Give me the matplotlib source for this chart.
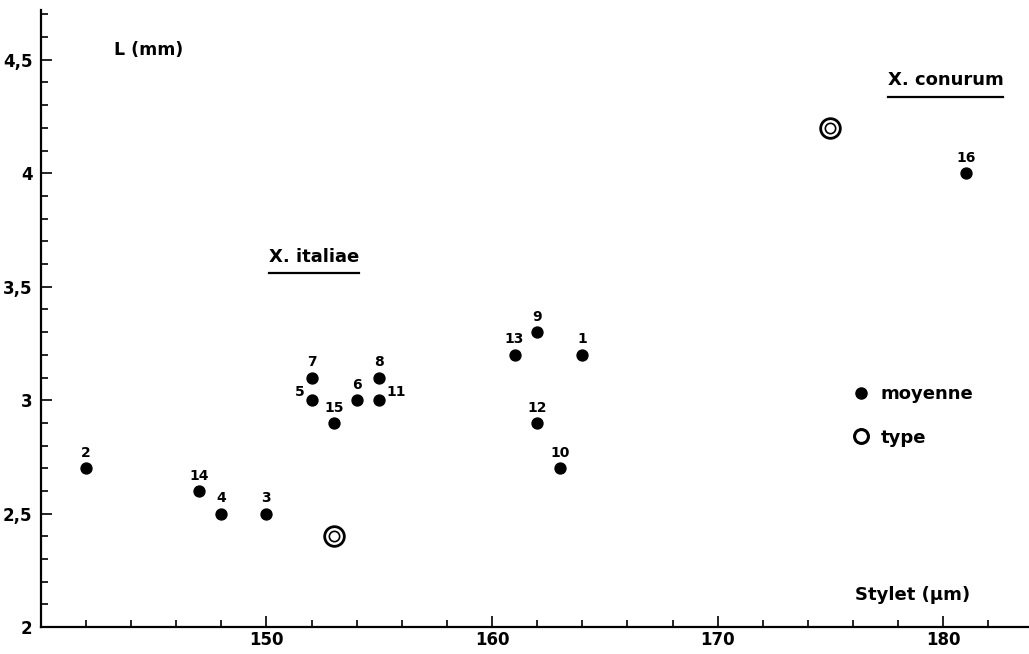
import matplotlib
matplotlib.use("Agg")
import matplotlib.pyplot as plt
from matplotlib.lines import Line2D

# ── data ──────────────────────────────────────────────────────────────
ids = list(range(1, 17))
stylet = [164, 142, 150, 148, 152, 154, 152, 155, 162, 163, 155, 162, 161, 147, 153, 181]
length = [3.2, 2.7, 2.5, 2.5, 3.0, 3.0, 3.1, 3.1, 3.3, 2.7, 3.0, 2.9, 3.2, 2.6, 2.9, 4.0]
type_stylet = [153, 175]
type_length = [2.4, 4.2]

x_major = [150, 160, 170, 180]
y_major = [2, 2.5, 3, 3.5, 4, 4.5]
y_labels = ["2", "2,5", "3", "3,5", "4", "4,5"]

# label placement for the few points not labelled straight above
side = {5: "left", 11: "right"}

plt.rcParams["font.family"] = ["DejaVu Sans"]
plt.rcParams["font.weight"] = "bold"

fig = plt.figure(figsize=(10.29, 6.54), dpi=100)
ax = fig.add_axes([0.0396, 0.041, 0.9604, 0.944])

ax.scatter(stylet, length, s=62, color="black", zorder=3)
ax.scatter(type_stylet, type_length, s=200, facecolor="white",
           edgecolor="black", linewidth=2.0, zorder=3)
ax.scatter(type_stylet, type_length, s=55, facecolor="white",
           edgecolor="black", linewidth=1.2, zorder=4)

for i, x, y in zip(ids, stylet, length):
    where = side.get(i, "above")
    if where == "above":
        ax.annotate(str(i), (x, y), xytext=(0, 6), textcoords="offset points",
                    ha="center", va="bottom", fontsize=10, fontweight="bold")
    elif where == "left":
        ax.annotate(str(i), (x, y), xytext=(-5, 1), textcoords="offset points",
                    ha="right", va="bottom", fontsize=10, fontweight="bold")
    else:
        ax.annotate(str(i), (x, y), xytext=(5, 1), textcoords="offset points",
                    ha="left", va="bottom", fontsize=10, fontweight="bold")

ax.set_xlim(140, 183.8)
ax.set_ylim(2.0, 4.72)

ax.set_xticks(x_major)
ax.set_xticks(range(142, 184, 2), minor=True)
ax.set_yticks(y_major)
ax.set_yticklabels(y_labels)
ax.set_yticks([2 + 0.1 * k for k in range(1, 28)], minor=True)
ax.tick_params(axis="both", which="both", direction="in", width=1.2,
               labelsize=12, colors="black")
ax.tick_params(axis="both", which="major", length=8)
ax.tick_params(axis="both", which="minor", length=5)
ax.tick_params(axis="x", pad=3)
ax.tick_params(axis="y", pad=6)
for lab in ax.get_xticklabels() + ax.get_yticklabels():
    lab.set_fontweight("bold")

for s in ("top", "right"):
    ax.spines[s].set_visible(False)
for s in ("left", "bottom"):
    ax.spines[s].set_linewidth(1.6)

# axis titles inside the frame
ax.text(0.074, 0.935, "L (mm)", transform=ax.transAxes, fontsize=12.5,
        fontweight="bold", ha="left", va="center")
ax.text(0.824, 0.052, "Stylet (\u00b5m)", transform=ax.transAxes, fontsize=13,
        fontweight="bold", ha="left", va="center")

# species names, underlined
species = [
    ax.text(0.231, 0.60, "X. italiae", transform=ax.transAxes, fontsize=13,
            fontweight="bold", ha="left", va="center"),
    ax.text(0.857, 0.886, "X. conurum", transform=ax.transAxes, fontsize=13,
            fontweight="bold", ha="left", va="center"),
]
fig.canvas.draw()
inv = ax.transAxes.inverted()
for t in species:
    bb = t.get_window_extent()
    (x0, y0), (x1, _) = inv.transform([(bb.x0, bb.y0), (bb.x1, bb.y1)])
    ax.plot([x0, x1], [y0 - 0.012, y0 - 0.012], color="black", lw=1.6,
            transform=ax.transAxes, clip_on=False)

# legend
handles = [
    Line2D([], [], marker="o", ls="", color="black", markersize=8),
    Line2D([], [], marker="o", ls="", markerfacecolor="white",
           markeredgecolor="black", markersize=10, markeredgewidth=2.2),
]
leg = ax.legend(handles, ["moyenne", "type"], loc="upper left",
                bbox_to_anchor=(0.803, 0.418), frameon=False, fontsize=13,
                handletextpad=0.45, labelspacing=1.4, handlelength=1.2)
for t in leg.get_texts():
    t.set_fontweight("bold")

fig.savefig("out.png", dpi=100)
